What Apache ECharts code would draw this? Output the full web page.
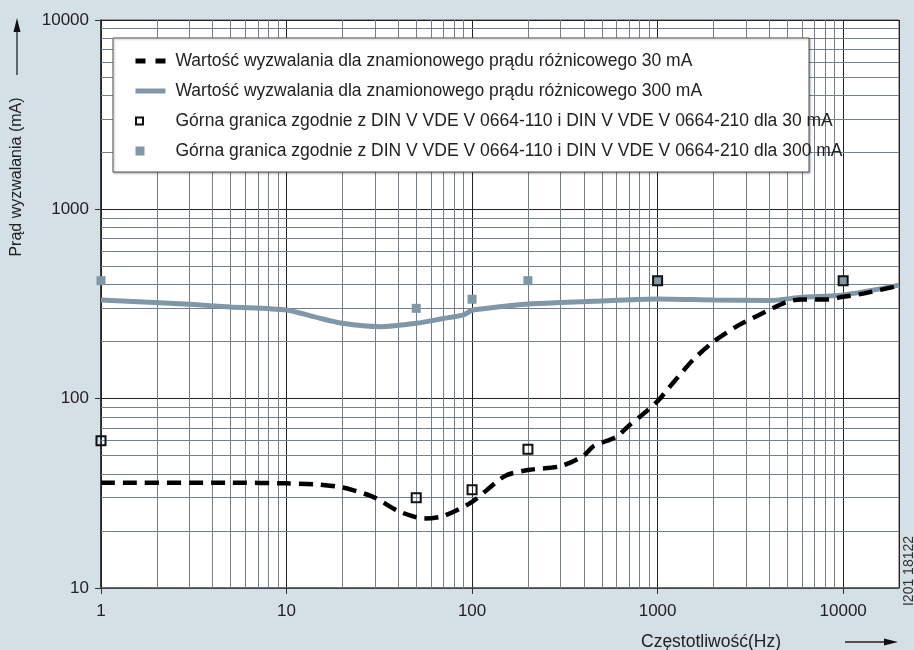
<!DOCTYPE html>
<html>
<head>
<meta charset="utf-8">
<title>Prąd wyzwalania</title>
<script src="https://cdn.jsdelivr.net/npm/echarts@6/dist/echarts.min.js"></script>
<style>
  html, body { margin: 0; padding: 0; background: #d5dfe6; }
  #chart { width: 914px; height: 650px; }
</style>
</head>
<body>
<div id="chart"></div>
<script>
// wartości (log-log)
const freq30 = [1, 5, 10, 15, 20, 25, 30, 40, 55, 70, 100, 150, 200, 300, 400, 450, 600, 700, 800, 1000, 1200, 1550, 2000, 2650, 3500, 5000, 6000, 8000, 10000, 13000, 20000];
const current30 = [36, 36, 35.7, 35.2, 34, 32, 30, 25.5, 23.3, 24, 28.5, 39, 42, 44, 50, 56, 63, 72, 80, 97, 120, 160, 200, 240, 276, 325, 334, 334, 345, 360, 395];

const freq300 = [1, 3, 5, 10, 14, 20, 32, 50, 70, 90, 100, 130, 200, 300, 500, 1000, 2000, 4000, 6000, 10000, 20000];
const current300 = [332, 315, 305, 294, 271, 250, 240, 250, 265, 277, 293, 303, 316, 322, 328, 336, 332, 330, 343, 353, 398];

const markerFreq = [1, 50, 100, 200, 1000, 10000];
const limit30 = [60, 30, 33, 54, 420, 420];
const limit300 = [420, 300, 335, 420, 420, 420];

const names = [
  'Wartość wyzwalania dla znamionowego prądu różnicowego 30 mA',
  'Wartość wyzwalania dla znamionowego prądu różnicowego 300 mA',
  'Górna granica zgodnie z DIN V VDE V 0664-110 i DIN V VDE V 0664-210 dla 30 mA',
  'Górna granica zgodnie z DIN V VDE V 0664-110 i DIN V VDE V 0664-210 dla 300 mA'
];

const FONT = 'Liberation Sans, Arial, sans-serif';
const GRAY = '#8097a7';

// linie pomocnicze siatki logarytmicznej (2..9 w każdej dekadzie)
function minorValues(fromDecade, toDecade) {
  const out = [];
  for (let d = fromDecade; d < toDecade; d++) {
    for (let k = 2; k <= 9; k++) out.push(k * Math.pow(10, d));
  }
  return out;
}
const minorX = minorValues(0, 4);
const minorY = minorValues(1, 4);

const pairs = (xs, ys) => xs.map((x, i) => [x, ys[i]]);

const chart = echarts.init(document.getElementById('chart'));

const option = {
  animation: false,
  backgroundColor: '#d5dfe6',
  textStyle: { fontFamily: FONT },
  grid: {
    left: 101, right: 15, top: 20, bottom: 62,
    show: true, backgroundColor: '#fff', borderColor: '#555', borderWidth: 1
  },
  xAxis: {
    type: 'log', logBase: 10, min: 1, max: 20000,
    axisLine: { show: true, lineStyle: { color: '#555', width: 1.5 } },
    axisTick: { show: true, length: 6, lineStyle: { color: '#333' } },
    axisLabel: {
      color: '#222', fontSize: 17, margin: 15, fontFamily: FONT,
      showMaxLabel: false,
      formatter: v => String(Math.round(v))
    },
    splitLine: { show: true, lineStyle: { color: '#222', width: 1 } }
  },
  yAxis: {
    type: 'log', logBase: 10, min: 10, max: 10000,
    axisLine: { show: true, lineStyle: { color: '#222', width: 1.5 } },
    axisTick: { show: true, length: 6, lineStyle: { color: '#333' } },
    axisLabel: {
      color: '#222', fontSize: 17, margin: 12, fontFamily: FONT,
      formatter: v => String(Math.round(v))
    },
    splitLine: { show: true, lineStyle: { color: '#222', width: 1 } }
  },
  legend: {
    orient: 'vertical',
    left: 128, top: 47,
    itemWidth: 30, itemHeight: 14, itemGap: 12,
    z: 10,
    selectedMode: false,
    textStyle: { color: '#222', fontSize: 17.5, fontFamily: FONT, lineHeight: 18, padding: [0, 0, 0, 5] },
    data: [
      { name: names[0], itemStyle: { opacity: 0 }, lineStyle: { type: [10, 10], width: 5 } },
      { name: names[1], itemStyle: { opacity: 0 }, lineStyle: { width: 5 } },
      { name: names[2], icon: 'path://M0,0M30,14M0.5,3.5h7v7h-7z' },
      { name: names[3], icon: 'path://M0,0M30,14M0,2.5h9v9h-9z' }
    ]
  },
  graphic: [
    {
      type: 'rect', z: 8,
      shape: { x: 113, y: 38, width: 696, height: 134 },
      style: { fill: '#fff', stroke: '#555', lineWidth: 1, shadowBlur: 2, shadowOffsetX: 1, shadowOffsetY: 1, shadowColor: 'rgba(0,0,0,0.3)' }
    },
    {
      type: 'text', x: 17, y: 177, rotation: Math.PI / 2,
      style: { text: 'Prąd wyzwalania (mA)', font: '16px ' + FONT, fill: '#222', align: 'center', verticalAlign: 'middle' }
    },
    { type: 'line', shape: { x1: 17, y1: 30, x2: 17, y2: 75 }, style: { stroke: '#222', lineWidth: 1.3 } },
    { type: 'polygon', shape: { points: [[17, 18], [13.5, 32], [20.5, 32]] }, style: { fill: '#111' } },
    {
      type: 'text', x: 711, y: 642,
      style: { text: 'Częstotliwość(Hz)', font: '17.5px ' + FONT, fill: '#222', align: 'center', verticalAlign: 'middle' }
    },
    { type: 'line', shape: { x1: 845, y1: 642, x2: 886, y2: 642 }, style: { stroke: '#222', lineWidth: 1.3 } },
    { type: 'polygon', shape: { points: [[898, 642], [884, 638.5], [884, 645.5]] }, style: { fill: '#111' } },
    {
      type: 'text', x: 909, y: 571, rotation: Math.PI / 2,
      style: { text: 'I201 18122', font: '14px ' + FONT, fill: '#333', align: 'center', verticalAlign: 'middle' }
    }
  ],
  series: [
    {
      name: 'siatka', type: 'line', data: [], z: 1, silent: true,
      markLine: {
        z: 1,
        silent: true, symbol: ['none', 'none'], label: { show: false },
        emphasis: { disabled: true },
        lineStyle: { color: '#71828e', width: 1, type: 'solid' },
        data: minorX.map(v => ({ xAxis: v })).concat(minorY.map(v => ({ yAxis: v })))
      }
    },
    {
      name: names[1], type: 'line', symbol: 'none', smooth: 0.25, z: 3,
      data: pairs(freq300, current300),
      lineStyle: { color: GRAY, width: 5 },
      itemStyle: { color: GRAY },
      emphasis: { disabled: true }
    },
    {
      name: names[0], type: 'line', symbol: 'none', smooth: 0.25, z: 4,
      data: pairs(freq30, current30),
      lineStyle: { color: '#000', width: 4.5, type: [14, 8] },
      itemStyle: { color: '#000' },
      emphasis: { disabled: true }
    },
    {
      name: names[3], type: 'scatter', symbol: 'rect', symbolSize: 9, z: 5,
      data: pairs(markerFreq, limit300),
      itemStyle: { color: GRAY, opacity: 1 },
      emphasis: { disabled: true }
    },
    {
      name: names[2], type: 'scatter', symbol: 'rect', symbolSize: 9, z: 6,
      data: pairs(markerFreq, limit30),
      itemStyle: { color: 'rgba(0,0,0,0)', borderColor: '#111', borderWidth: 2, opacity: 1 },
      emphasis: { disabled: true }
    }
  ]
};

chart.setOption(option);
</script>
</body>
</html>
